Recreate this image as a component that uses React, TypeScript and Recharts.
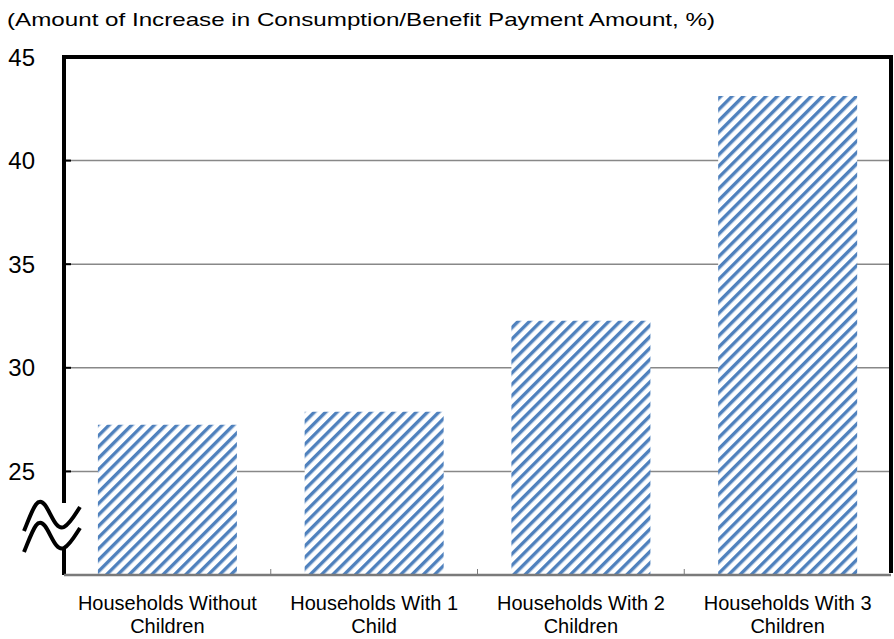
import React from "react"
import { Bar, BarChart, CartesianGrid, ReferenceArea, XAxis, YAxis } from "recharts"

const categories = [
  "Households Without\nChildren",
  "Households With 1\nChild",
  "Households With 2\nChildren",
  "Households With 3\nChildren",
]
const increaseValues = [27.25, 27.88, 32.27, 43.12]
const yTicks = [25, 30, 35, 40, 45]

const data = categories.map((name, i) => ({ name, value: increaseValues[i] }))

const FONT = "'Liberation Sans', Arial, sans-serif"
const BLUE = "#4f81bd"

function CategoryTick(props: any) {
  const { x, y, payload } = props
  const lines = String(payload.value).split("\n")
  const half = payload.offset || 103
  return (
    <g>
      {payload.index > 0 && (
        <line x1={x - half} x2={x - half} y1={y - 8} y2={y - 14} stroke="#7a7a7a" strokeWidth={1} />
      )}
      {lines.map((line, i) => (
        <text key={i} x={x} y={y + 27 + i * 23} textAnchor="middle" fontFamily={FONT} fontSize={20} fill="#000">
          {line}
        </text>
      ))}
    </g>
  )
}

// plot frame: left axis with the break mark, top and right border, drawn from the plot area box
function Frame(props: any) {
  const { x, y, width, height } = props
  const bottom = y + height
  const right = x + width
  const wave = (dy: number) =>
    `M ${x - 40} ${bottom - 44 + dy} C ${x - 31} ${bottom - 66 + dy} ${x - 27} ${bottom - 80 + dy} ${x - 19} ${bottom - 70 + dy} ` +
    `C ${x - 13} ${bottom - 62 + dy} ${x - 8} ${bottom - 44 + dy} ${x} ${bottom - 48 + dy} ` +
    `C ${x + 6} ${bottom - 51 + dy} ${x + 12} ${bottom - 62 + dy} ${x + 16} ${bottom - 68 + dy}`
  return (
    <g>
      <line x1={x - 2} x2={right + 2} y1={y} y2={y} stroke="#000" strokeWidth={4} />
      <line x1={right} x2={right} y1={y} y2={bottom - 2} stroke="#000" strokeWidth={4} />
      <line x1={x} x2={x} y1={y - 2} y2={bottom - 72} stroke="#000" strokeWidth={4} />
      <line x1={x} x2={x} y1={bottom - 28} y2={bottom} stroke="#000" strokeWidth={4} />
      <path d={wave(0)} fill="none" stroke="#000" strokeWidth={4} />
      <path d={wave(21)} fill="none" stroke="#000" strokeWidth={4} />
    </g>
  )
}

export default function App() {
  return (
    <div style={{ position: "absolute", left: 0, top: 0, width: 894, height: 639, background: "#fff" }}>
      <div
        style={{
          position: "absolute",
          left: 7,
          top: 10,
          fontFamily: FONT,
          fontSize: 18.6,
          lineHeight: "20px",
          transform: "scaleX(1.3)",
          transformOrigin: "0 0",
          whiteSpace: "nowrap",
          color: "#000",
        }}
      >
        (Amount of Increase in Consumption/Benefit Payment Amount, %)
      </div>
      <BarChart
        width={894}
        height={639}
        data={data}
        margin={{ top: 57, right: 3, bottom: 0, left: 0 }}
        barCategoryGap="16.4%"
      >
        <defs>
          <pattern id="hatch" width="8" height="8" patternUnits="userSpaceOnUse" patternTransform="rotate(45)">
            <rect x="0" y="0" width="8" height="8" fill="#fff" />
            <rect x="0" y="0" width="3.4" height="8" fill={BLUE} />
          </pattern>
        </defs>
        <CartesianGrid vertical={false} stroke="#888" strokeWidth={1.5} />
        <XAxis
          dataKey="name"
          height={64}
          axisLine={{ stroke: "#7a7a7a", strokeWidth: 2.5 }}
          tickLine={false}
          tick={<CategoryTick />}
          interval={0}
        />
        <YAxis
          domain={[20, 45]}
          ticks={yTicks}
          width={64}
          axisLine={false}
          tickLine={{ stroke: "#000", strokeWidth: 2 }}
          tickSize={-7}
          tickMargin={36}
          tick={{ fontFamily: FONT, fontSize: 24, fill: "#000" }}
          allowDataOverflow
        />
        <Bar dataKey="value" fill="url(#hatch)" isAnimationActive={false} />
        <ReferenceArea y1={20} y2={45} ifOverflow="visible" shape={<Frame />} />
      </BarChart>
    </div>
  )
}
